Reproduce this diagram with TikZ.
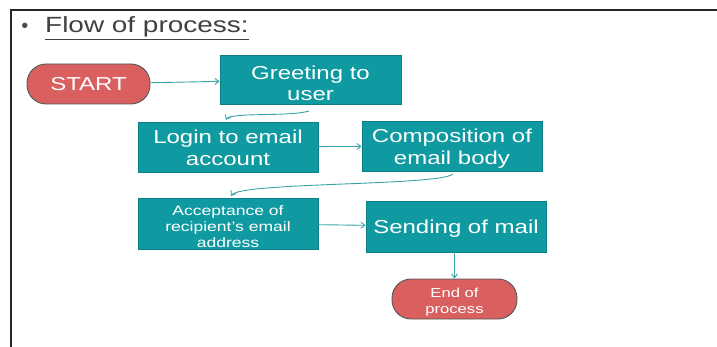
\documentclass[tikz,border=0pt]{standalone}
\usepackage{graphicx}
\usepackage{fontspec}
\setmainfont{Liberation Sans}
\usetikzlibrary{arrows.meta}
\definecolor{tealbox}{HTML}{0E9AA0}
\definecolor{tealedge}{HTML}{0B7F84}
\definecolor{redterm}{HTML}{D9605F}
\definecolor{termedge}{HTML}{4F5A5A}
\definecolor{flowline}{HTML}{3AA3A7}
% wide-set text block: lines centred, letters stretched sideways,
% optionally nudged up or down without changing the reported size
\newcommand{\widetext}[2][0pt]{\raisebox{#1}[\height][\depth]{\scalebox{1.28}[1]{\begin{tabular}{@{}c@{}}#2\end{tabular}}}}
\begin{document}
\begin{tikzpicture}[x=1pt,y=-1pt,
  stepbox/.style={draw=tealedge,fill=tealbox,line width=0.8pt,text=white,
    align=center,inner sep=0pt,font=\fontsize{18.75}{21.5}\selectfont},
  termbox/.style={draw=termedge,fill=redterm,line width=0.9pt,text=white,
    rounded corners=19pt,align=center,inner sep=0pt},
  flow/.style={draw=flowline,line width=0.9pt,-{Straight Barb[length=4pt,width=6pt]}}]
\useasboundingbox (0,0) rectangle (717,347);
% slide frame
\draw[line width=1.6pt,black!85] (717,10) -- (11,10) -- (11,347);
% heading
\node[inner sep=0pt,font=\fontsize{20}{20}\selectfont,text=black!70] (bul) at (25,27.5) {•};
\node[anchor=base west,inner sep=0pt,font=\fontsize{22}{22}\selectfont,text=black!75] (title) at (45,33) {\scalebox{1.27}[1]{\underline{Flow of process:}}};
% process steps
\node[termbox,minimum width=123pt,minimum height=40pt,font=\fontsize{18.75}{20}\selectfont] (start) at (88.5,84) {\widetext[-3pt]{START}};
\node[stepbox,minimum width=181pt,minimum height=49pt] (greet) at (310.5,79.5) {\widetext[-6pt]{Greeting to\\user}};
\node[stepbox,minimum width=180pt,minimum height=50pt] (login) at (228,147) {\widetext[-3pt]{Login to email\\account}};
\node[stepbox,minimum width=180pt,minimum height=50pt] (comp) at (452,146) {\widetext[-3pt]{Composition of\\email body}};
\node[stepbox,minimum width=180pt,minimum height=51pt,font=\fontsize{13.7}{16}\selectfont] (accept) at (228,223.5) {\widetext[-5pt]{Acceptance of\\recipient's email\\address}};
\node[stepbox,minimum width=180pt,minimum height=51pt] (send) at (456,226.5) {\widetext[-3pt]{Sending of mail}};
\node[termbox,minimum width=125pt,minimum height=40pt,font=\fontsize{13}{16}\selectfont] (end) at (454.5,299) {\widetext[-3pt]{End of\\process}};
% connectors
\coordinate (gout) at (309,111);
\coordinate (cout) at (453,174);
\draw[flow] (start) -- (greet);
\draw[flow] (gout) .. controls (290,117) and (230,112) .. (226,120);
\draw[flow] (login) -- (comp);
\draw[flow] (cout) .. controls (440,186) and (240,182) .. (231,196);
\draw[flow] (accept) -- (send);
\draw[flow] (send.south -| end.north) -- (end.north);
\end{tikzpicture}
\end{document}
